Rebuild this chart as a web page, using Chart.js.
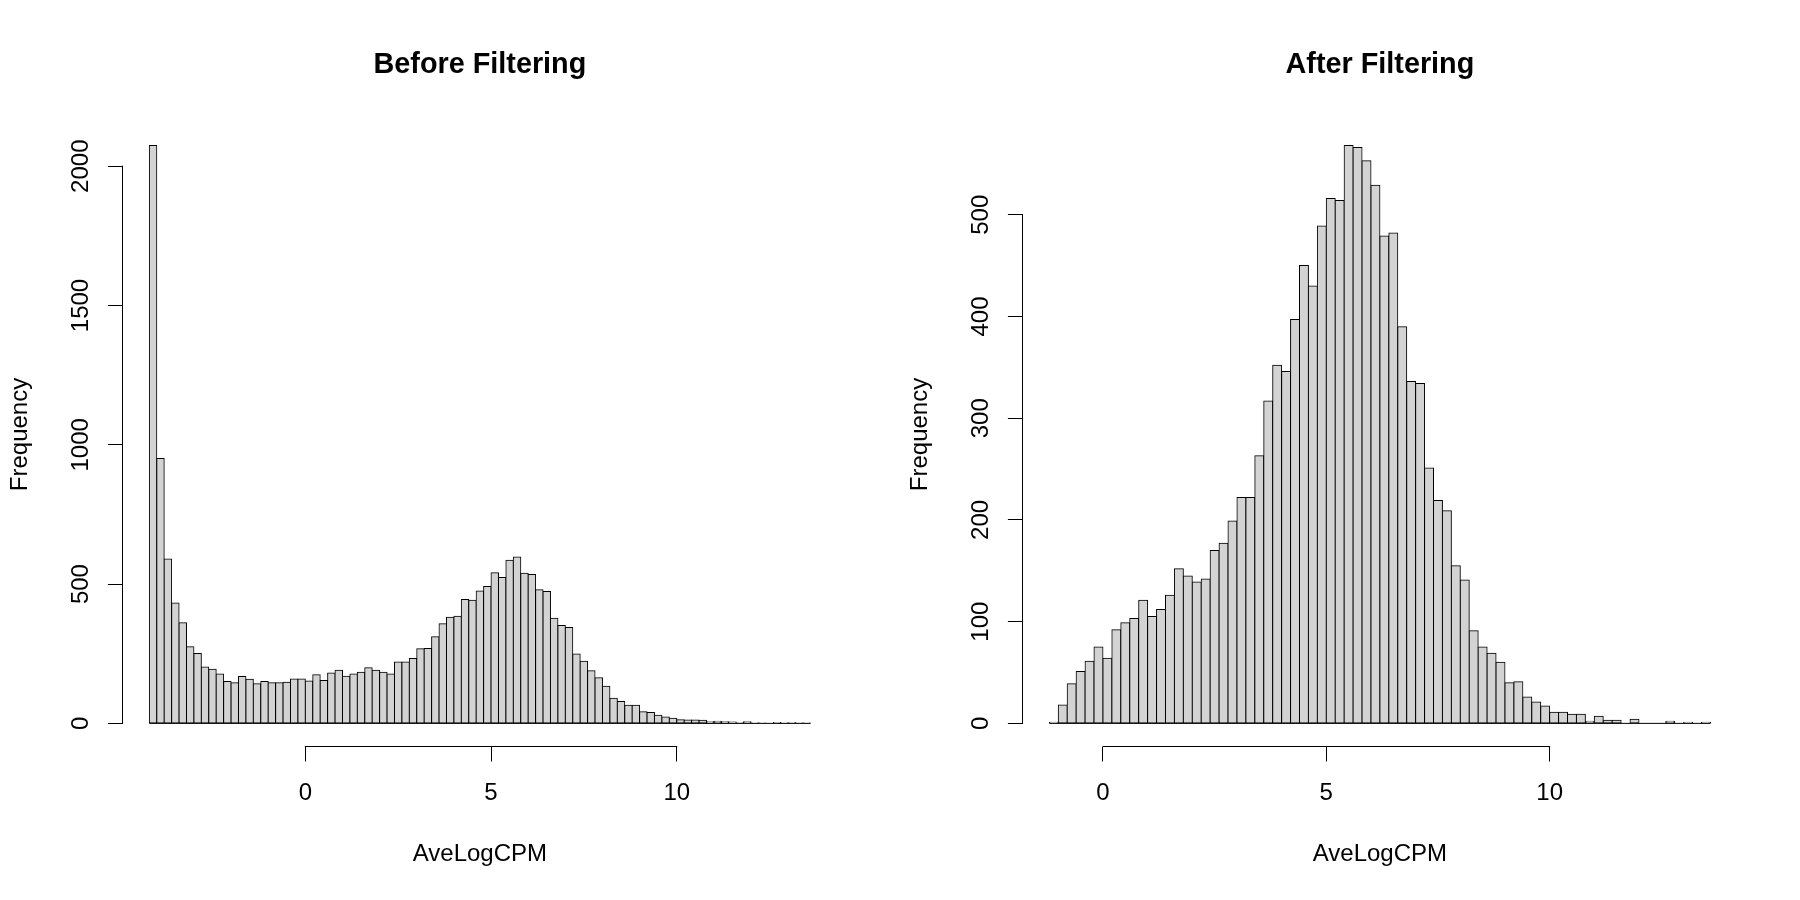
<!DOCTYPE html>
<html>
<head>
<meta charset="utf-8">
<title>AveLogCPM before / after filtering</title>
<script src="https://cdn.jsdelivr.net/npm/chart.js@4.4.1/dist/chart.umd.min.js"></script>
<style>
  html, body { margin: 0; padding: 0; background: #fff; }
  .panel { position: absolute; top: 0; width: 900px; height: 900px; }
  #before { left: 0; }
  #after { left: 900px; }
</style>
</head>
<body>
<div class="panel" id="before"><canvas id="beforeChart"></canvas></div>
<div class="panel" id="after"><canvas id="afterChart"></canvas></div>
<script>
// histogram breaks: 0.2 wide, starting at these values
const binWidth = 0.2;
const beforeStart = -4.2;
const afterStart = -1.2;

// counts per bin
const beforeCounts = [
  2074, 951, 590, 432, 361, 275, 251, 202, 194, 177,
  150, 146, 168, 158, 142, 150, 146, 146, 148, 159,
  159, 152, 175, 154, 181, 191, 169, 177, 184, 200,
  191, 184, 177, 220, 220, 233, 268, 269, 311, 358,
  381, 385, 445, 442, 475, 491, 541, 524, 586, 597,
  539, 534, 480, 473, 377, 351, 344, 249, 223, 189,
  164, 133, 90, 79, 65, 65, 42, 39, 29, 23,
  18, 13, 12, 12, 11, 6, 8, 6, 5, 2,
  6, 1, 1, 0, 3, 1, 2, 1, 1
];
const afterCounts = [
  1, 18, 39, 51, 61, 75, 64, 92, 99, 103,
  121, 105, 112, 126, 152, 145, 139, 142, 170, 177,
  199, 222, 222, 263, 317, 352, 346, 397, 450, 430,
  489, 516, 514, 568, 566, 553, 529, 479, 482, 390,
  336, 334, 251, 219, 209, 155, 141, 91, 75, 69,
  60, 40, 41, 26, 21, 17, 11, 11, 9, 9,
  2, 7, 3, 3, 0, 4, 0, 0, 0, 2,
  0, 1, 0, 1
];

const xTicks = [0, 5, 10];
const beforeYTicks = [0, 500, 1000, 1500, 2000];
const afterYTicks = [0, 100, 200, 300, 400, 500];

const FONT = '"Liberation Sans", Arial, Helvetica, sans-serif';
Chart.defaults.font.family = FONT;
Chart.defaults.font.size = 24;
Chart.defaults.color = '#000';

// R-style axis lines: only from first to last tick
const rAxes = {
  id: 'rAxes',
  afterDraw(chart) {
    const {ctx, chartArea, scales: {x, y}} = chart;
    const ax = Math.round(chartArea.left - 0.5) + 0.5;
    const ay = Math.round(chartArea.bottom - 0.5) + 0.5;
    ctx.save();
    ctx.strokeStyle = '#000';
    ctx.lineWidth = 1;
    ctx.lineCap = 'square';
    ctx.beginPath();
    ctx.moveTo(ax, y.getPixelForValue(y.ticks[0].value));
    ctx.lineTo(ax, y.getPixelForValue(y.ticks[y.ticks.length - 1].value));
    ctx.moveTo(x.getPixelForValue(x.ticks[0].value), ay);
    ctx.lineTo(x.getPixelForValue(x.ticks[x.ticks.length - 1].value), ay);
    ctx.stroke();
    ctx.restore();
  }
};

// empty bins still show their (flat) outline along zero
const zeroLine = {
  id: 'zeroLine',
  afterDatasetsDraw(chart, args, opts) {
    const {ctx, scales: {x, y}} = chart;
    const y0 = y.getPixelForValue(0);
    ctx.save();
    ctx.strokeStyle = '#000';
    ctx.lineWidth = 1;
    ctx.beginPath();
    ctx.moveTo(x.getPixelForValue(opts.from), y0);
    ctx.lineTo(x.getPixelForValue(opts.to), y0);
    ctx.stroke();
    ctx.restore();
  }
};

function textWidth(str) {
  const c = document.createElement('canvas').getContext('2d');
  c.font = '24px ' + FONT;
  return c.measureText(str).width;
}

function makeHist(canvasId, title, start, counts, yTicks) {
  const end = start + counts.length * binWidth;
  const span = end - start;
  const maxCount = Math.max(...counts);
  const points = counts.map((c, i) => ({x: start + (i + 0.5) * binWidth, y: c}));
  const widest = Math.max(...yTicks.map(v => textWidth(String(v))));

  return new Chart(document.getElementById(canvasId), {
    type: 'bar',
    data: {
      datasets: [{
        data: points,
        backgroundColor: '#D3D3D3',
        borderColor: '#000',
        borderWidth: 1,
        borderSkipped: false,
        inflateAmount: 0.5,
        barPercentage: 1,
        categoryPercentage: 1,
        grouped: false
      }]
    },
    options: {
      responsive: true,
      maintainAspectRatio: false,
      animation: false,
      events: [],
      layout: {padding: {left: 0, top: 0, bottom: 0, right: 63.1}},
      plugins: {
        legend: {display: false},
        tooltip: {enabled: false},
        title: {
          display: true,
          text: title,
          fullSize: false,
          font: {size: 28.8, weight: 'bold'},
          color: '#000',
          padding: {top: 48, bottom: 39.9}
        },
        zeroLine: {from: start, to: end}
      },
      scales: {
        x: {
          type: 'linear',
          offset: false,
          bounds: 'data',
          min: start - 0.04 * span,
          max: end + 0.04 * span,
          afterBuildTicks: s => { s.ticks = xTicks.map(v => ({value: v})); },
          afterFit: s => { s.height = 153.5; },
          grid: {display: true, drawOnChartArea: false, drawTicks: true, tickLength: 15, color: '#000', lineWidth: 1, offset: false},
          border: {display: false},
          ticks: {autoSkip: false, maxRotation: 0, padding: 17.4, callback: v => String(v)},
          title: {display: true, text: 'AveLogCPM', padding: {top: 0, bottom: 31.5}}
        },
        y: {
          type: 'linear',
          bounds: 'data',
          min: -0.04 * maxCount,
          max: 1.04 * maxCount,
          afterBuildTicks: s => { s.ticks = yTicks.map(v => ({value: v})); },
          afterFit: s => { s.width = 122.9; },
          grid: {display: true, drawOnChartArea: false, drawTicks: true, tickLength: 15, color: '#000', lineWidth: 1},
          border: {display: false},
          ticks: {
            autoSkip: false,
            minRotation: 90,
            maxRotation: 90,
            crossAlign: 'center',
            padding: 27 - widest / 2,
            callback: v => String(v)
          },
          title: {display: true, text: 'Frequency', padding: {top: 6, bottom: 0}}
        }
      }
    },
    plugins: [rAxes, zeroLine]
  });
}

makeHist('beforeChart', 'Before Filtering', beforeStart, beforeCounts, beforeYTicks);
makeHist('afterChart', 'After Filtering', afterStart, afterCounts, afterYTicks);
</script>
</body>
</html>
